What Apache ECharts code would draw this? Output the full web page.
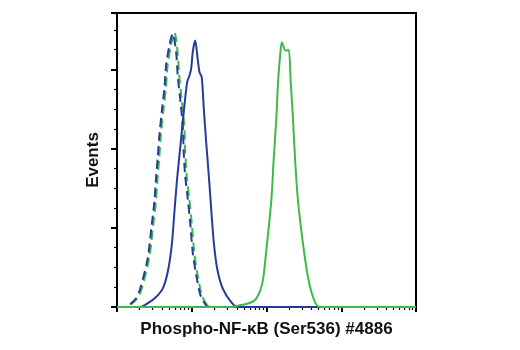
<!DOCTYPE html>
<html>
<head>
<meta charset="utf-8">
<script src="https://cdn.jsdelivr.net/npm/echarts@6/dist/echarts.min.js"></script>
<style>
  html, body { margin: 0; padding: 0; background: #fff; }
  #chart { width: 520px; height: 350px; }
</style>
</head>
<body>
<div id="chart"></div>
<script>
// Fluorescence intensity (log scale) and event counts per histogram
const isotypeBlueX = [1, 1.25, 1.80, 2.05, 2.57, 2.91, 3.16, 3.33, 3.50, 3.69, 4.01, 4.31, 4.54, 5.02, 5.56, 6.18, 6.49, 6.99, 7.57, 7.81, 8.16, 8.84, 9.61, 10.3, 11.5, 13.1, 15.6, 18.4, 10000];
const isotypeBlueY = [0, 0, 8.8, 18.9, 49.1, 82.4, 106, 129.9, 150, 173.3, 200.5, 220.7, 243.9, 264, 275.9, 257.3, 233.8, 210.6, 183.4, 156.4, 132.9, 109.7, 82.4, 55.5, 32, 11.8, 1.7, 0, 0];

const isotypeGreenX = [1, 1.29, 1.87, 2.15, 2.69, 3.05, 3.31, 3.49, 3.67, 3.86, 4.20, 4.51, 4.75, 5.26, 5.86, 6.47, 6.80, 7.32, 7.94, 8.19, 8.54, 9.26, 10.06, 10.8, 12.0, 13.7, 16.2, 18.9, 10000];
const isotypeGreenY = [0, 0, 8.8, 18.9, 49.1, 82.4, 106, 129.9, 150, 173.3, 200.5, 220.7, 243.9, 264, 277.5, 257.3, 233.8, 210.6, 183.4, 156.4, 132.9, 109.7, 82.4, 55.5, 32, 11.8, 1.7, 0, 0];

const stainBlueX = [1, 1.99, 2.32, 3.16, 4.09, 4.77, 5.40, 5.86, 6.37, 7.06, 7.81, 8.68, 9.32, 9.82, 10.3, 11.1, 12.0, 12.7, 13.6, 14.5, 15.6, 16.9, 18.2, 19.7, 21.9, 26.0, 33.7, 41.4, 10000];
const stainBlueY = [0, 0, 1.7, 8.5, 18.6, 35.3, 62.3, 95.9, 129.6, 163.2, 196.8, 227, 233.8, 240.6, 257.3, 269.1, 250.7, 237.1, 232.1, 200.2, 166.5, 132.9, 99.3, 65.6, 38.7, 18.6, 5.0, 0, 0];

const stainGreenX = [1, 35.1, 43.6, 59.4, 73.0, 87.8, 99.4, 116, 124.5, 135.3, 143.1, 152.2, 160.9, 180.3, 197.8, 210.4, 225.9, 241.7, 263.7, 307.6, 358.9, 418.8, 488.6, 601, 10000];
const stainGreenY = [0, 0, 1.7, 4.0, 8.5, 23.6, 57.2, 107.7, 148, 190.4, 228.8, 254, 267.4, 259, 259.7, 228.8, 190.4, 148, 107.7, 64, 30.3, 10.1, 0.7, 0, 0];

// Axis ranges and tick positions
const xMin = 1, xMax = 10000;
const xMinorTicks = [2, 3, 4, 5, 6, 7, 8, 9,
  20, 30, 40, 50, 60, 70, 80, 90,
  200, 300, 400, 500, 600, 700, 800, 900,
  2000, 3000, 4000, 5000, 6000, 7000, 8000, 9000];
const yMin = 0, yMax = 297, yMajorStep = 80, yMinorStep = 20;

const xTitle = 'Phospho-NF-κB (Ser536) #4886';
const yTitle = 'Events';

const BLUE = '#283a9a';
const GREEN = '#3dba4a';
const FONT = '"Liberation Sans Narrow", "Liberation Sans", Arial, sans-serif';

function pairs(xs, ys) { return xs.map((x, i) => [x, ys[i]]); }

const chart = echarts.init(document.getElementById('chart'), null, { renderer: 'canvas' });

chart.setOption({
  animation: false,
  backgroundColor: '#fff',
  grid: {
    left: 117, top: 13, right: 104, bottom: 43,
    show: true, borderColor: '#000', borderWidth: 2, backgroundColor: 'transparent'
  },
  xAxis: [
    {
      type: 'log', logBase: 10, min: xMin, max: xMax,
      name: xTitle, nameLocation: 'middle', nameGap: 14,
      nameTextStyle: { fontFamily: FONT, fontWeight: 'bold', fontSize: 17, color: '#111' },
      axisLine: { show: true, lineStyle: { color: '#000', width: 2 } },
      axisTick: { show: true, length: 5, lineStyle: { color: '#000', width: 2 } },
      axisLabel: { show: false },
      splitLine: { show: false }, minorTick: { show: false }, minorSplitLine: { show: false }
    },
    {
      type: 'log', logBase: 10, min: xMin, max: xMax, position: 'bottom',
      axisLine: { show: false },
      axisTick: { show: true, length: 3, customValues: xMinorTicks, lineStyle: { color: '#000', width: 1.2 } },
      axisLabel: { show: false },
      splitLine: { show: false }
    }
  ],
  yAxis: [
    {
      type: 'value', min: yMin, max: yMax, interval: yMajorStep,
      name: yTitle, nameLocation: 'middle', nameGap: 15, nameRotate: 90,
      nameTextStyle: { fontFamily: FONT, fontWeight: 'bold', fontSize: 17, color: '#111' },
      axisLine: { show: true, lineStyle: { color: '#000', width: 2 } },
      axisTick: { show: true, length: 6, lineStyle: { color: '#000', width: 2 } },
      axisLabel: { show: false },
      splitLine: { show: false }
    },
    {
      type: 'value', min: yMin, max: yMax, interval: yMinorStep, position: 'left',
      axisLine: { show: false },
      axisTick: { show: true, length: 3, lineStyle: { color: '#000', width: 1.2 } },
      axisLabel: { show: false },
      splitLine: { show: false }
    }
  ],
  series: [
    {
      type: 'line', name: 'stain-blue', data: pairs(stainBlueX, stainBlueY),
      showSymbol: false, smooth: 0.3, lineStyle: { color: BLUE, width: 2 }, z: 3
    },
    {
      type: 'line', name: 'isotype-green', data: pairs(isotypeGreenX, isotypeGreenY),
      showSymbol: false, smooth: 0.3, lineStyle: { color: GREEN, width: 2, type: [9, 5] }, z: 2
    },
    {
      type: 'line', name: 'isotype-blue', data: pairs(isotypeBlueX, isotypeBlueY),
      showSymbol: false, smooth: 0.3, lineStyle: { color: BLUE, width: 2, type: [9, 5] }, z: 3
    },
    {
      type: 'line', name: 'stain-green', data: pairs(stainGreenX, stainGreenY),
      showSymbol: false, smooth: 0.3, lineStyle: { color: GREEN, width: 2 }, z: 3
    }
  ]
});
</script>
</body>
</html>
